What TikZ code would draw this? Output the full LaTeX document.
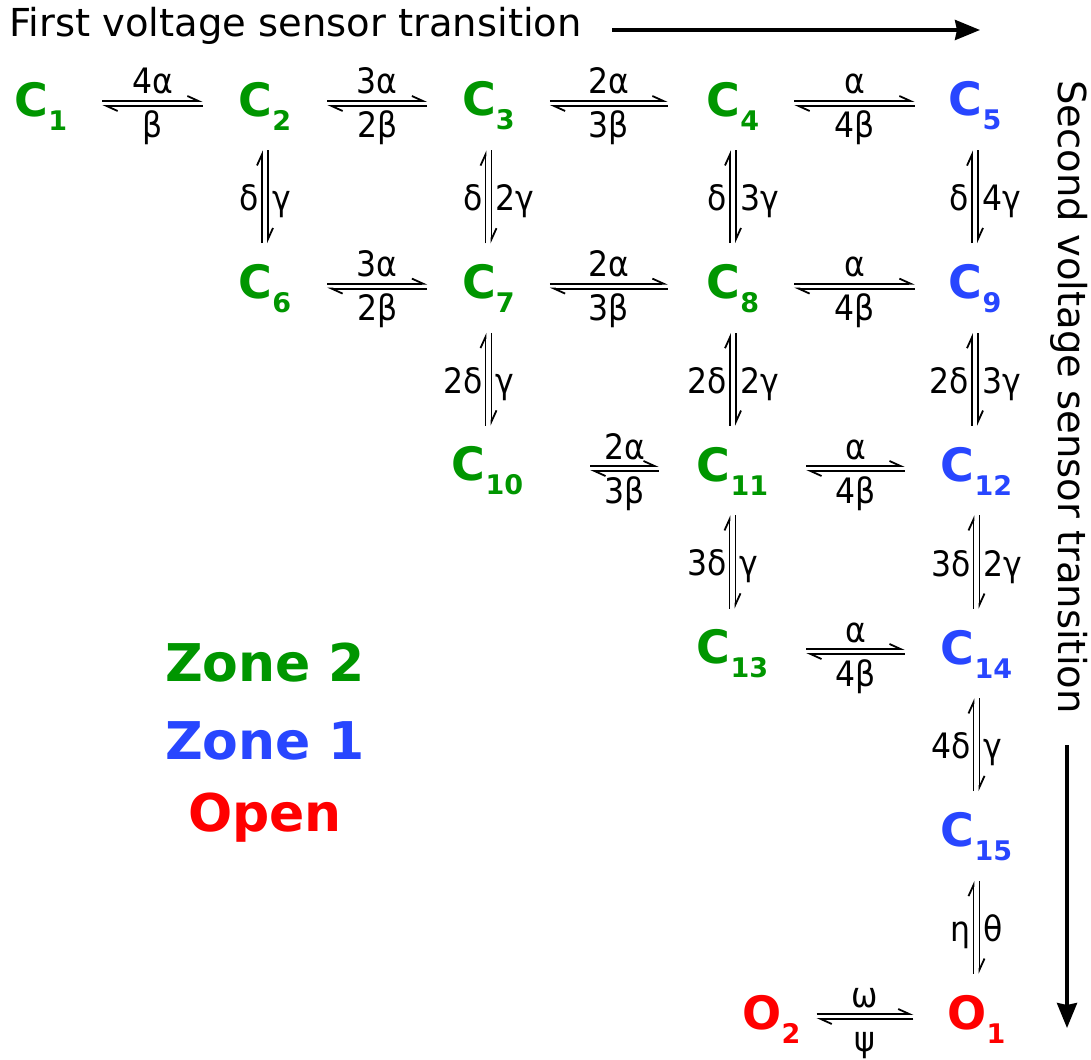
\documentclass[tikz,border=0pt]{standalone}
\usepackage{fontspec}
\setmainfont{DejaVu Sans}
\newfontfamily\condfont{DejaVu Sans Condensed}
\usetikzlibrary{arrows.meta,calc}
\definecolor{zgreen}{RGB}{0,150,0}
\definecolor{zblue}{RGB}{40,70,255}
\definecolor{zred}{RGB}{255,0,0}
\newcommand\lsub[1]{\raisebox{-14pt}{\fontsize{27}{27}\selectfont #1}}
\tikzset{
  clab/.style={inner sep=0pt, font=\fontsize{46}{46}\selectfont\bfseries},
  harp/.style={line width=1.8pt, -{Straight Barb[harpoon, length=11pt, width=10pt]}},
  rate/.style={inner sep=0pt, font=\condfont\fontsize{35}{35}\selectfont},
  ttl/.style={inner sep=0pt, font=\fontsize{38.5}{38.5}\selectfont},
  zone/.style={inner sep=0pt, font=\fontsize{52}{52}\selectfont\bfseries},
  big/.style={line width=3.5pt, -{Stealth[length=25pt,width=20pt,inset=2pt]}}
}
\newcommand\heq[6]{%
  \draw[harp, shorten <=#3pt, shorten >=#4pt] ([yshift=5pt]#1.east) -- ([yshift=5pt]#2.west);
  \draw[harp, shorten <=#4pt, shorten >=#3pt] (#2.west) -- (#1.east);
  \node[rate, anchor=base, xshift={(#3-#4)/2}, yshift=12pt] at ($(#1.east)!.5!(#2.west)$) {#5};
  \node[rate, anchor=base, xshift={(#3-#4)/2}, yshift=-32pt] at ($(#1.east)!.5!(#2.west)$) {#6};
}
\newcommand\veq[4]{%
  \coordinate (vt) at (#1.south);
  \coordinate (vb) at (#1.south |- #2.north);
  \draw[harp, shorten <=21pt, shorten >=20pt] ($(vb)+(-3,0)$) -- ($(vt)+(-3,0)$);
  \draw[harp, shorten <=20pt, shorten >=21pt] ($(vt)+(3,0)$) -- ($(vb)+(3,0)$);
  \node[rate, anchor=base east] at ($(vt)!.5!(vb)+(-6,13.5)$) {#3};
  \node[rate, anchor=base west] at ($(vt)!.5!(vb)+(7,13.5)$) {#4};
}
\begin{document}
\begin{tikzpicture}[x=1pt,y=-1pt]
\useasboundingbox (0,0) rectangle (1091,1059);
% titles
\node[ttl, anchor=base west] (t1) at (9,37) {First voltage sensor transition};
\coordinate (t1a) at (612,30);
\coordinate (t1b) at (980,30);
\draw[big] (t1a) -- (t1b);
\node[ttl, rotate=-90] (t2) at (1069,397) {Second voltage sensor transition};
\coordinate (t2a) at (1067,745);
\coordinate (t2b) at (1067,1028);
\draw[big] (t2a) -- (t2b);
% states
\node[clab, text=zgreen] (C1) at (41,106) {C\lsub{1}};
\node[clab, text=zgreen] (C2) at (265,106) {C\lsub{2}};
\node[clab, text=zgreen] (C3) at (488.5,106) {C\lsub{3}};
\node[clab, text=zgreen] (C4) at (733,106) {C\lsub{4}};
\node[clab, text=zblue] (C5) at (975,106) {C\lsub{5}};
\node[clab, text=zgreen] (C6) at (265,288.6) {C\lsub{6}};
\node[clab, text=zgreen] (C7) at (488.5,288.6) {C\lsub{7}};
\node[clab, text=zgreen] (C8) at (733,288.6) {C\lsub{8}};
\node[clab, text=zblue] (C9) at (975,288.6) {C\lsub{9}};
\node[clab, text=zgreen] (C10) at (487.5,471) {C\lsub{10}};
\node[clab, text=zgreen] (C11) at (732.5,471) {C\lsub{11}};
\node[clab, text=zblue] (C12) at (976.5,471) {C\lsub{12}};
\node[clab, text=zgreen] (C13) at (732.5,654) {C\lsub{13}};
\node[clab, text=zblue] (C14) at (976.5,654) {C\lsub{14}};
\node[clab, text=zblue] (C15) at (976.5,836.5) {C\lsub{15}};
\node[clab, text=zred] (O2) at (771.5,1019) {O\lsub{2}};
\node[clab, text=zred] (O1) at (976.5,1019) {O\lsub{1}};
% horizontal transitions
\heq{C1}{C2}{35}{36}{4α}{β}
\heq{C2}{C3}{36}{35}{3α}{2β}
\heq{C3}{C4}{35}{39}{2α}{3β}
\heq{C4}{C5}{35}{34}{α}{4β}
\heq{C6}{C7}{36}{35}{3α}{2β}
\heq{C7}{C8}{35}{39}{2α}{3β}
\heq{C8}{C9}{35}{34}{α}{4β}
\heq{C10}{C11}{67}{38}{2α}{3β}
\heq{C11}{C12}{38}{36}{α}{4β}
\heq{C13}{C14}{38}{36}{α}{4β}
\heq{O2}{O1}{16}{34}{ω}{ψ}
% vertical transitions
\veq{C2}{C6}{δ}{γ}
\veq{C3}{C7}{δ}{2γ}
\veq{C4}{C8}{δ}{3γ}
\veq{C5}{C9}{δ}{4γ}
\veq{C7}{C10}{2δ}{γ}
\veq{C8}{C11}{2δ}{2γ}
\veq{C9}{C12}{2δ}{3γ}
\veq{C11}{C13}{3δ}{γ}
\veq{C12}{C14}{3δ}{2γ}
\veq{C14}{C15}{4δ}{γ}
\veq{C15}{O1}{η}{θ}
% legend
\node[zone, text=zgreen, anchor=base] (z2) at (265,681) {Zone 2};
\node[zone, text=zblue, anchor=base] (z1) at (265,759) {Zone 1};
\node[zone, text=zred, anchor=base] (zo) at (265,831) {Open};
\end{tikzpicture}
\end{document}
